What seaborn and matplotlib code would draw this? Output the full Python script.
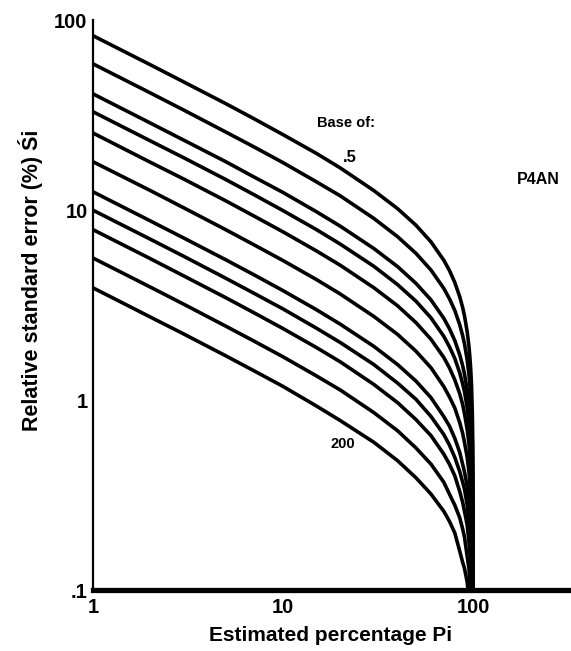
import numpy as np
import pandas as pd
import seaborn as sns
import matplotlib
matplotlib.use("Agg")
import matplotlib.pyplot as plt
from matplotlib.ticker import FixedLocator, FixedFormatter, NullLocator

sns.set_theme(style="white")
plt.rcParams["font.family"] = ["Liberation Sans", "DejaVu Sans"]
plt.rcParams["font.weight"] = "bold"
plt.rcParams["text.color"] = "black"
plt.rcParams["axes.labelcolor"] = "black"

# estimated percentage Pi (x positions where curves were read)
pct = [1, 2, 3, 5, 7, 10, 15, 20, 30, 40, 50, 60, 70, 75, 80, 85, 88, 90,
       93, 95, 96, 97, 98, 99, 99.5, 99.8, 100]

# bases (only first and last are labelled on the chart)
bases = [".5", "1", "2", "3", "5", "10", "20", "30", "50", "100", "200"]

# relative standard error (%)
se_05 = [83, 58.4, 47.4, 36.4, 30.4, 25.0, 19.9, 16.7, 12.7, 10.2, 8.34, 6.81, 5.46, 4.82, 4.17, 3.50, 3.08, 2.78,
         2.29, 1.92, 1.70, 1.47, 1.20, 0.84, 0.59, 0.37, 0.01]
se_1 = [59, 41.5, 33.7, 25.8, 21.6, 17.8, 14.1, 11.9, 9.06, 7.26, 5.93, 4.84, 3.88, 3.42, 2.97, 2.49, 2.19, 1.98,
        1.63, 1.36, 1.21, 1.04, 0.85, 0.60, 0.42, 0.27, 0.01]
se_2 = [41, 28.8, 23.4, 18.0, 15.0, 12.4, 9.81, 8.24, 6.29, 5.05, 4.12, 3.37, 2.70, 2.38, 2.06, 1.73, 1.52, 1.37,
        1.13, 0.95, 0.84, 0.73, 0.59, 0.41, 0.29, 0.18, 0.01]
se_3 = [33, 23.2, 18.9, 14.5, 12.1, 9.95, 7.90, 6.63, 5.07, 4.06, 3.32, 2.71, 2.17, 1.91, 1.66, 1.39, 1.22, 1.11,
        0.91, 0.76, 0.68, 0.58, 0.48, 0.33, 0.23, 0.15, 0.01]
se_5 = [25.5, 17.9, 14.6, 11.2, 9.34, 7.69, 6.10, 5.13, 3.91, 3.14, 2.56, 2.09, 1.68, 1.48, 1.28, 1.08, 0.95, 0.85,
        0.70, 0.59, 0.52, 0.45, 0.37, 0.26, 0.18, 0.11, 0.01]
se_10 = [18, 12.7, 10.3, 7.89, 6.59, 5.43, 4.31, 3.62, 2.76, 2.22, 1.81, 1.48, 1.18, 1.04, 0.91, 0.76, 0.67, 0.60,
         0.50, 0.42, 0.37, 0.32, 0.26, 0.18, 0.13, 0.08, 0.01]
se_20 = [12.5, 8.79, 7.14, 5.48, 4.58, 3.77, 2.99, 2.51, 1.92, 1.54, 1.26, 1.03, 0.82, 0.73, 0.63, 0.53, 0.46, 0.42,
         0.35, 0.29, 0.26, 0.22, 0.18, 0.13, 0.09, 0.06, 0.01]
se_30 = [10, 7.04, 5.72, 4.38, 3.66, 3.02, 2.39, 2.01, 1.54, 1.23, 1.01, 0.82, 0.66, 0.58, 0.50, 0.42, 0.37, 0.34,
         0.28, 0.23, 0.21, 0.18, 0.14, 0.10, 0.07, 0.045, 0.01]
se_50 = [7.9, 5.56, 4.51, 3.46, 2.89, 2.38, 1.89, 1.59, 1.21, 0.97, 0.79, 0.65, 0.52, 0.46, 0.40, 0.33, 0.29, 0.26,
         0.22, 0.18, 0.16, 0.14, 0.11, 0.08, 0.06, 0.036, 0.01]
se_100 = [5.6, 3.94, 3.20, 2.45, 2.05, 1.69, 1.34, 1.13, 0.86, 0.69, 0.56, 0.46, 0.37, 0.32, 0.28, 0.24, 0.21, 0.19,
          0.15, 0.13, 0.11, 0.10, 0.08, 0.06, 0.04, 0.025, 0.01]
se_200 = [3.9, 2.74, 2.23, 1.71, 1.43, 1.18, 0.93, 0.78, 0.60, 0.48, 0.39, 0.32, 0.26, 0.23, 0.20, 0.16, 0.14, 0.13,
          0.11, 0.09, 0.08, 0.07, 0.06, 0.04, 0.03, 0.018, 0.01]

curves = [se_05, se_1, se_2, se_3, se_5, se_10, se_20, se_30, se_50, se_100, se_200]

rows = []
for b, vals in zip(bases, curves):
    for p, v in zip(pct, vals):
        rows.append({"base": b, "pct": p, "se": v})
df = pd.DataFrame(rows)

fig = plt.figure(figsize=(5.71, 6.51), dpi=100)
ax = fig.add_axes([0.163, 0.0937, 0.832, 0.875])

sns.lineplot(data=df, x="pct", y="se", hue="base", hue_order=bases,
             palette=["black"] * len(bases), linewidth=2.6, legend=False,
             ax=ax, sort=False)

ax.set_xscale("log")
ax.set_yscale("log")
ax.set_xlim(1, 316)
ax.set_ylim(0.1, 100)

ax.xaxis.set_major_locator(FixedLocator([1, 10, 100]))
ax.xaxis.set_major_formatter(FixedFormatter(["1", "10", "100"]))
ax.xaxis.set_minor_locator(NullLocator())
ax.yaxis.set_major_locator(FixedLocator([0.1, 1, 10, 100]))
ax.yaxis.set_major_formatter(FixedFormatter([".1", "1", "10", "100"]))
ax.yaxis.set_minor_locator(NullLocator())

ax.tick_params(axis="y", direction="in", length=7, width=2, pad=4,
               labelsize=14.5, colors="black")
ax.tick_params(axis="x", direction="in", length=5, width=1.2, pad=6,
               labelsize=14.5, colors="black")
for lab in ax.get_xticklabels() + ax.get_yticklabels():
    lab.set_fontweight("bold")

for s in ["top", "right"]:
    ax.spines[s].set_visible(False)
ax.spines["left"].set_linewidth(1.6)
ax.spines["left"].set_color("black")
ax.spines["bottom"].set_linewidth(3.8)
ax.spines["bottom"].set_color("black")

ax.set_xlabel("Estimated percentage Pi", fontsize=15, fontweight="bold", labelpad=6)
ax.set_ylabel("Relative standard error (%) Śi", fontsize=15.5, fontweight="bold")
ax.yaxis.set_label_coords(-0.105, 0.544)

ax.text(21.5, 28.7, "Base of:", fontsize=10.5, fontweight="bold", ha="center", va="center")
ax.text(22.5, 19.0, bases[0], fontsize=12, fontweight="bold", ha="center", va="center")
ax.text(20.7, 0.586, bases[-1], fontsize=10.5, fontweight="bold", ha="center", va="center")
ax.text(220, 14.6, "P4AN", fontsize=11.5, fontweight="bold", ha="center", va="center")

fig.savefig("out.png", dpi=100)
